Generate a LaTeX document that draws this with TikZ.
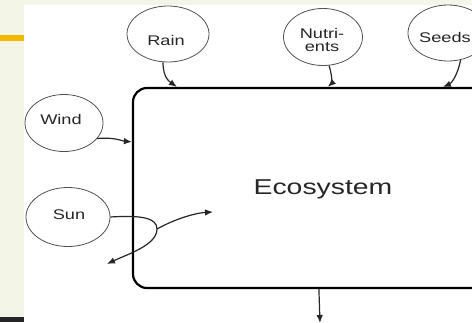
\documentclass[tikz,border=0pt]{standalone}
\usepackage{fontspec}
\setmainfont{Liberation Sans}
\usetikzlibrary{shapes.geometric,arrows.meta,calc}
\definecolor{slide}{HTML}{F3F5E6}
\definecolor{bar}{HTML}{F5B800}
\definecolor{ink}{HTML}{262626}
\tikzset{
  bubble/.style={ellipse, draw=ink!80, line width=0.8pt, inner sep=0pt},
  lbl/.style={text=ink, font=\fontsize{14}{13}\selectfont, align=center, inner sep=0pt},
  arr/.style={draw=ink, line width=1.2pt, -{Latex[length=8pt,width=6.5pt]}},
  frame/.style={draw=black, line width=2.2pt, rounded corners=14pt, rectangle, inner sep=0pt}
}
\newcommand{\sx}[1]{\scalebox{1.3}[1]{#1}}
\begin{document}
\begin{tikzpicture}[x=1pt,y=-1pt]
\useasboundingbox (0,0) rectangle (472,322);
% slide background
\fill[slide] (0,0) rectangle (472,5);
\fill[slide] (0,0) rectangle (24,322);
\fill[bar] (0,35) rectangle (24,41);
\fill[black!85] (0,317) rectangle (24,322);
% main box
\node[frame, minimum width=360pt, minimum height=200pt] (box) at (313,188) {};
\node[text=ink, font=\fontsize{21.5}{24}\selectfont, inner sep=0pt] (eco) at (323,189) {\scalebox{1.32}[1]{Ecosystem}};
% bubbles
\node[bubble, minimum width=82pt, minimum height=56pt] (rain) at (168,34) {};
\node[lbl] (rainT) at (166,40) {\sx{Rain}};
\node[bubble, minimum width=78pt, minimum height=57pt] (wind) at (64,123) {};
\node[lbl] (windT) at (61,119) {\sx{Wind}};
\node[bubble, minimum width=79pt, minimum height=57pt] (nutr) at (323,37) {};
\node[lbl] (nutrT) at (322,40) {\sx{Nutri-}\\\sx{ents}};
\node[bubble, minimum width=80pt, minimum height=56pt] (seeds) at (448,33) {};
\node[lbl] (seedsT) at (445,37) {\sx{Seeds}};
\node[bubble, minimum width=84pt, minimum height=59pt] (sun) at (68,217) {};
\node[lbl] (sunT) at (69,215) {\sx{Sun}};
% connectors
\draw[arr] (rain.south) ++(-5,0) .. controls (163,78) and (170,82) .. ($(box.north west)+(45,0)$);
\draw[arr] (wind.-25) .. controls (115,137) and (122,141) .. ($(box.north west)+(0,55)$);
\draw[arr] (nutr.-78) .. controls (333,78) and (331,84) .. ($(box.north west)+(196,0)$);
\draw[arr] (seeds.-65) .. controls (457,78) and (450,84) .. ($(box.north west)+(311,0)$);
\draw[arr] (box.south west) ++(187,0) -- (320,323);
% sun
\coordinate (split) at (157,229);
\coordinate (sunIn) at (213,212);
\coordinate (sunOut) at (107,264);
\draw[arr] (sun.east) .. controls (142,215) and (157,218) .. (split)
  .. controls (157,245) and (128,254) .. (sunOut);
\draw[arr] (split) .. controls (175,219) and (195,213) .. (sunIn);
\end{tikzpicture}
\end{document}
